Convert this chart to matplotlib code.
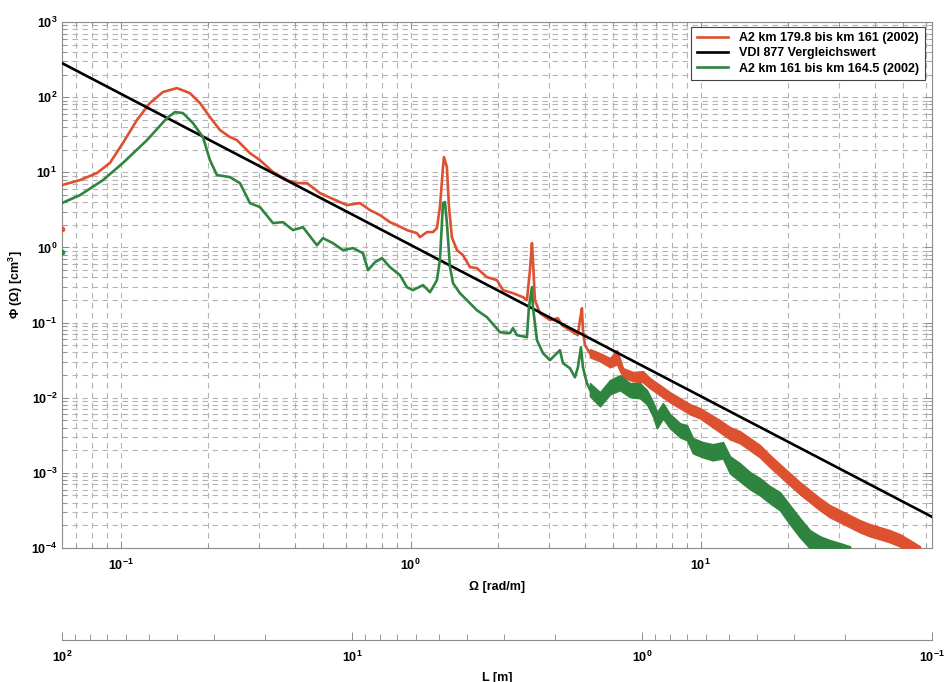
import numpy as np
import matplotlib
matplotlib.use("Agg")
import matplotlib.pyplot as plt
from matplotlib.ticker import FuncFormatter, LogLocator, NullFormatter

plt.rcParams['font.family'] = ['Liberation Sans', 'DejaVu Sans']
plt.rcParams['mathtext.fontset'] = 'custom'
plt.rcParams['mathtext.rm'] = 'Liberation Sans'
plt.rcParams['mathtext.bf'] = 'Liberation Sans:bold'
plt.rcParams['mathtext.it'] = 'Liberation Sans:italic'

# ---------------- data ----------------
label_orange = "A2 km 179.8 bis km 161 (2002)"
label_black = "VDI 877 Vergleichswert"
label_green = "A2 km 161 bis km 164.5 (2002)"

# smooth / low-frequency part of the orange series
omega_orange = [0.0628, 0.0725, 0.0829, 0.0919, 0.1019, 0.1139, 0.1263, 0.1400, 0.1565, 0.1735,
                0.1879, 0.2034, 0.2202, 0.2384, 0.2520, 0.2794, 0.3026, 0.3354, 0.3749, 0.4058,
                0.4393, 0.4872, 0.5709, 0.6035, 0.6693, 0.7247, 0.7846, 0.8492, 0.8977, 0.9721,
                1.052, 1.078, 1.139, 1.195, 1.233, 1.263, 1.294, 1.304, 1.335, 1.357,
                1.389, 1.401, 1.446, 1.516, 1.603, 1.694, 1.834, 1.986, 2.083, 2.255,
                2.442, 2.520, 2.581, 2.622, 2.643, 2.685, 2.795, 3.026, 3.223, 3.327,
                3.545, 3.778, 3.839, 3.900, 3.931, 3.994, 4.157]
phi_orange = [6.75, 7.87, 9.76, 13.3, 24.5, 49.6, 83.4, 117, 132, 113,
              83.4, 54.3, 36.5, 29.4, 26.8, 18.0, 14.5, 10.1, 7.87, 7.18,
              7.18, 5.28, 4.01, 3.66, 3.89, 3.14, 2.69, 2.17, 1.98, 1.70,
              1.55, 1.37, 1.60, 1.60, 1.81, 3.44, 11.7, 15.9, 11.7, 3.44,
              1.37, 1.25, 0.920, 0.790, 0.547, 0.530, 0.402, 0.367, 0.270, 0.246,
              0.218, 0.199, 0.498, 1.14, 0.678, 0.199, 0.133, 0.108, 0.114, 0.0923,
              0.0792, 0.0680, 0.108, 0.155, 0.0792, 0.0500, 0.0390]

# noisy high-frequency part of the orange series (upper / lower envelope)
omega_orange_band = [4.157, 4.500, 4.872, 5.151, 5.402, 5.848, 6.330, 6.692, 7.247, 7.846,
                     8.492, 9.194, 9.954, 10.78, 11.67, 12.63, 13.67, 14.81, 16.03, 17.36,
                     18.79, 20.34, 22.02, 23.84, 25.81, 27.95, 30.26, 32.75, 35.45, 38.39,
                     41.57, 45.00, 48.73, 52.74, 57.10]
phi_orange_hi = [0.0442, 0.0391, 0.0336, 0.0429, 0.0247, 0.0219, 0.0225, 0.0182, 0.0147, 0.0118,
                 0.00985, 0.00819, 0.00725, 0.00603, 0.00502, 0.00405, 0.00358, 0.00289, 0.00233, 0.00172,
                 0.00130, 0.000988, 0.000750, 0.000587, 0.000459, 0.000370, 0.000318, 0.000273, 0.000234, 0.000207,
                 0.000189, 0.000172, 0.000152, 0.000127, 0.000105]
phi_orange_lo = [0.0346, 0.0306, 0.0255, 0.0279, 0.0187, 0.0166, 0.0161, 0.0134, 0.0108, 0.00871,
                 0.00725, 0.00603, 0.00533, 0.00430, 0.00347, 0.00280, 0.00248, 0.00200, 0.00161, 0.00119,
                 0.000901, 0.000684, 0.000519, 0.000406, 0.000318, 0.000256, 0.000220, 0.000189, 0.000162, 0.000143,
                 0.000131, 0.000119, 0.000105, 0.0000877, 0.0000686]

# smooth / low-frequency part of the green series
omega_green = [0.0628, 0.0725, 0.0870, 0.1019, 0.1234, 0.1446, 0.1541, 0.1641, 0.1777, 0.1924,
               0.2034, 0.2150, 0.2384, 0.2581, 0.2794, 0.3026, 0.3354, 0.3633, 0.3932, 0.4256,
               0.4757, 0.4989, 0.5401, 0.5848, 0.6330, 0.6854, 0.7133, 0.7541, 0.7970, 0.8492,
               0.9194, 0.9721, 1.019, 1.104, 1.167, 1.195, 1.233, 1.263, 1.294, 1.314,
               1.335, 1.368, 1.401, 1.480, 1.565, 1.603, 1.694, 1.834, 2.034, 2.202,
               2.255, 2.328, 2.520, 2.560, 2.622, 2.643, 2.729, 2.862, 3.026, 3.198,
               3.275, 3.354, 3.545, 3.690, 3.778, 3.870, 3.931, 4.058, 4.157]
phi_green = [3.89, 4.97, 7.87, 13.3, 26.8, 52.7, 63.3, 61.4, 45.2, 29.4,
             14.5, 9.18, 8.63, 7.18, 3.89, 3.44, 2.11, 2.17, 1.70, 1.86,
             1.07, 1.33, 1.14, 0.920, 0.979, 0.840, 0.498, 0.637, 0.720, 0.547,
             0.428, 0.296, 0.270, 0.315, 0.254, 0.296, 0.367, 0.678, 3.89, 4.01,
             2.11, 0.547, 0.335, 0.246, 0.199, 0.181, 0.146, 0.118, 0.0745, 0.0723,
             0.0842, 0.0680, 0.0639, 0.160, 0.296, 0.160, 0.0583, 0.0391, 0.0316, 0.0391,
             0.0429, 0.0288, 0.0247, 0.0187, 0.0255, 0.0470, 0.0255, 0.0156, 0.0128]

# noisy high-frequency part of the green series (upper / lower envelope)
omega_green_band = [4.157, 4.500, 4.872, 5.275, 5.709, 6.181, 6.534, 6.855, 7.073, 7.420,
                    7.846, 8.492, 8.979, 9.417, 10.19, 11.03, 11.95, 12.63, 13.67, 14.81,
                    16.03, 17.36, 18.79, 20.34, 22.02, 23.84, 25.81, 27.95, 30.26, 32.75]
phi_green_hi = [0.0156, 0.0118, 0.0171, 0.0199, 0.0156, 0.0156, 0.0126, 0.00871, 0.00641, 0.00845,
                0.00603, 0.00457, 0.00430, 0.00289, 0.00256, 0.00240, 0.00256, 0.00166, 0.00134, 0.00102,
                0.000848, 0.000663, 0.000552, 0.000370, 0.000249, 0.000172, 0.000143, 0.000127, 0.000116, 0.000105]
phi_green_lo = [0.0105, 0.00770, 0.0111, 0.0126, 0.0102, 0.00985, 0.00819, 0.00567, 0.00393, 0.00533,
                0.00393, 0.00298, 0.00272, 0.00182, 0.00161, 0.00147, 0.00156, 0.000988, 0.000773, 0.000605,
                0.000503, 0.000394, 0.000318, 0.000207, 0.000139, 0.0000991, 0.00008, 0.00008, 0.00008, 0.00008]

# isolated first (DC) points at the left border
omega_dc = [0.0628]
phi_dc_orange = [1.75]
phi_dc_green = [0.865]

# VDI 877 reference line (end points)
omega_vdi = [0.0628, 62.8]
phi_vdi = [284.0, 0.00026]

omega_lim = [2 * np.pi / 100, 2 * np.pi / 0.1]
phi_lim = [1e-4, 1e3]
L_lim = [100, 0.1]

# ---------------- plot ----------------
c_orange = '#DD5030'
c_green = '#2F8540'
grid_c = '#b4b4b4'
spine_c = '#8c8c8c'

fig = plt.figure(figsize=(9.52, 6.82), dpi=100)
ax = fig.add_axes([62 / 952, 1 - 548 / 682, 870 / 952, 526 / 682])


def fmt(v, pos):
    e = int(round(np.log10(v)))
    return r'$\mathbf{10^{%d}}$' % e


ax.plot(omega_orange, phi_orange, color=c_orange, lw=1.9, label=label_orange, zorder=3)
ax.fill_between(omega_orange_band, phi_orange_lo, phi_orange_hi, color=c_orange, lw=1.2,
                edgecolor=c_orange, zorder=3)
ax.plot(omega_vdi, phi_vdi, color='black', lw=1.9, label=label_black, zorder=4)
ax.plot(omega_green, phi_green, color=c_green, lw=1.9, label=label_green, zorder=5)
ax.fill_between(omega_green_band, phi_green_lo, phi_green_hi, color=c_green, lw=1.2,
                edgecolor=c_green, zorder=5)
ax.plot(omega_dc, phi_dc_orange, 'o', color=c_orange, ms=3, zorder=5)
ax.plot(omega_dc, phi_dc_green, 'o', color=c_green, ms=3, zorder=5)

ax.set_xscale('log')
ax.set_yscale('log')
ax.set_xlim(omega_lim)
ax.set_ylim(phi_lim)
ax.xaxis.set_major_locator(LogLocator(base=10, numticks=10))
ax.xaxis.set_minor_locator(LogLocator(base=10, subs=np.arange(2, 10), numticks=20))
ax.yaxis.set_major_locator(LogLocator(base=10, numticks=10))
ax.yaxis.set_minor_locator(LogLocator(base=10, subs=np.arange(2, 10), numticks=20))
ax.xaxis.set_major_formatter(FuncFormatter(fmt))
ax.yaxis.set_major_formatter(FuncFormatter(fmt))
ax.xaxis.set_minor_formatter(NullFormatter())
ax.yaxis.set_minor_formatter(NullFormatter())

ax.set_axisbelow(True)
ax.grid(True, which='both', color=grid_c, linestyle=(0, (5, 4)), linewidth=0.8)
ax.tick_params(which='both', direction='in', top=True, right=True, colors=spine_c,
               labelcolor='black', labelsize=9)
ax.tick_params(which='major', length=5, width=0.7)
ax.tick_params(which='minor', length=3, width=0.6)
ax.tick_params(axis='x', pad=7)
for s in ax.spines.values():
    s.set_color(spine_c)
    s.set_linewidth(0.8)

ax.set_xlabel('Ω [rad/m]', fontsize=9, fontweight='bold', labelpad=6)
ax.set_ylabel('Φ (Ω) [cm$^\\mathbf{3}$]', fontsize=9, fontweight='bold')
ax.yaxis.set_label_coords(-(62 - 25) / 870, 0.5)

leg = ax.legend(loc='upper right', bbox_to_anchor=(0.992, 0.991), fancybox=False,
                edgecolor='#444444', framealpha=1, prop={'weight': 'bold', 'size': 9},
                handlelength=2.5, borderpad=0.45, labelspacing=0.25, handletextpad=0.9,
                borderaxespad=0)
leg.get_frame().set_linewidth(0.8)

# secondary wavelength axis
ax2 = fig.add_axes([62 / 952, 1 - 640 / 682, 870 / 952, 0.0001])
ax2.set_xscale('log')
ax2.set_xlim(L_lim)
ax2.set_yticks([])
for k in ['top', 'left', 'right']:
    ax2.spines[k].set_visible(False)
ax2.spines['bottom'].set_color(spine_c)
ax2.spines['bottom'].set_linewidth(0.8)
ax2.patch.set_visible(False)
ax2.xaxis.set_major_locator(LogLocator(base=10, numticks=10))
ax2.xaxis.set_minor_locator(LogLocator(base=10, subs=np.arange(2, 10), numticks=20))
ax2.xaxis.set_major_formatter(FuncFormatter(fmt))
ax2.xaxis.set_minor_formatter(NullFormatter())
ax2.tick_params(which='both', direction='in', colors=spine_c, labelcolor='black', labelsize=9)
ax2.tick_params(which='major', length=6, width=0.7, pad=7)
ax2.tick_params(which='minor', length=4, width=0.6)
ax2.set_xlabel('L [m]', fontsize=9, fontweight='bold', labelpad=5)

fig.savefig('out.png', dpi=100)
